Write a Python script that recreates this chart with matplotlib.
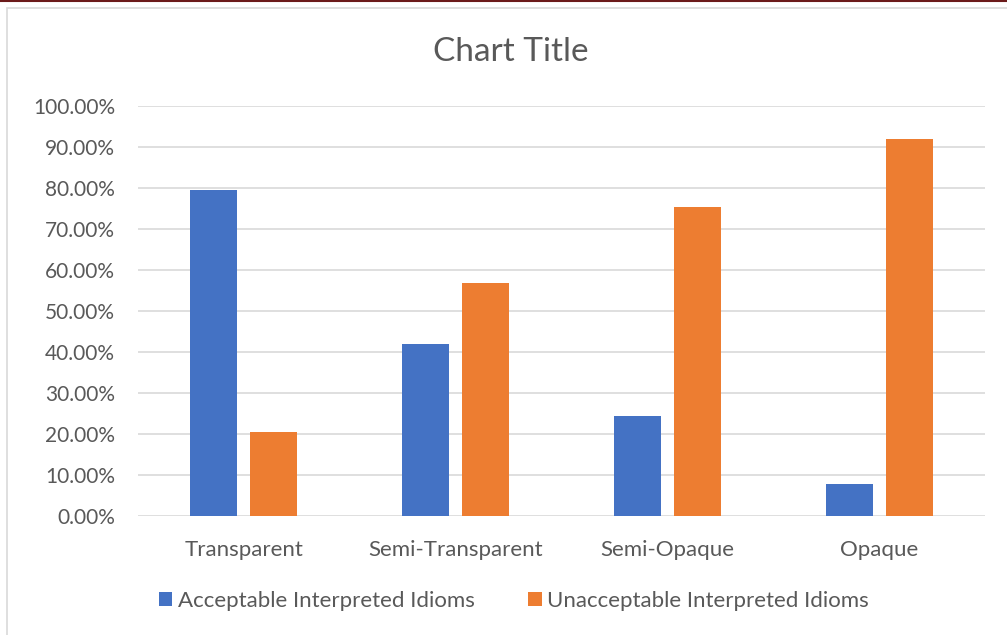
import numpy as np
import matplotlib
matplotlib.use("Agg")
import matplotlib.pyplot as plt
from matplotlib.patches import Rectangle
from matplotlib.lines import Line2D
from matplotlib.ticker import FuncFormatter

# -------------------------
# DATA
# -------------------------
categories = ["Transparent", "Semi-Transparent", "Semi-Opaque", "Opaque"]
acceptable = [79.4, 42.0, 24.5, 7.8]
unacceptable = [20.6, 56.9, 75.4, 92.0]
series_names = ["Acceptable Interpreted Idioms", "Unacceptable Interpreted Idioms"]

blue = "#4472C4"
orange = "#ED7D31"
text_grey = "#595959"
grid_grey = "#D9D9D9"

plt.rcParams['font.family'] = ['Lato', 'DejaVu Sans']

fig = plt.figure(figsize=(10.07, 6.35), dpi=100)
W, H = 1007, 635

# plot area in pixels: x 138..985, y 106..516
ax = fig.add_axes([138 / W, 1 - 516 / H, (985 - 138) / W, (516 - 106) / H])

x = np.arange(len(categories))
bw = 0.222
ax.bar(x - 0.142, acceptable, bw, color=blue, label=series_names[0], zorder=3)
ax.bar(x + 0.142, unacceptable, bw, color=orange, label=series_names[1], zorder=3)

ax.set_xlim(-0.5, len(categories) - 0.5)
ax.set_ylim(0, 100)
ax.set_yticks(np.arange(0, 101, 10))
ax.yaxis.set_major_formatter(FuncFormatter(lambda v, p: f"{v:.2f}%"))
ax.set_xticks(x)
ax.set_xticklabels(categories)
ax.tick_params(axis='both', length=0, labelcolor=text_grey)
ax.tick_params(axis='y', labelsize=15, pad=16.5)
ax.tick_params(axis='x', labelsize=16, pad=17)
ax.grid(axis='y', color=grid_grey, linewidth=1.2, zorder=0)
for s in ax.spines.values():
    s.set_visible(False)

fig.text(511 / W, 1 - 52 / H, "Chart Title", ha='center', va='center',
         fontsize=24, color=text_grey)

leg = fig.legend(loc='center', bbox_to_anchor=(514 / W, 1 - 601 / H), ncol=2,
                 frameon=False, fontsize=16, handlelength=0.6, handleheight=0.6,
                 handletextpad=0.25, columnspacing=2.4)
for t in leg.get_texts():
    t.set_color(text_grey)

# chart frame and top rule
fig.add_artist(Rectangle((6.5 / W, -0.05), 1.1, 1 - 7.5 / H + 0.05,
                         transform=fig.transFigure, fill=False,
                         edgecolor="#D9D9D9", linewidth=1.2))
fig.add_artist(Line2D([0, 1], [1 - 1 / H, 1 - 1 / H], transform=fig.transFigure,
                      color="#6B1A1A", linewidth=1.5))

fig.savefig("out.png", dpi=100)
